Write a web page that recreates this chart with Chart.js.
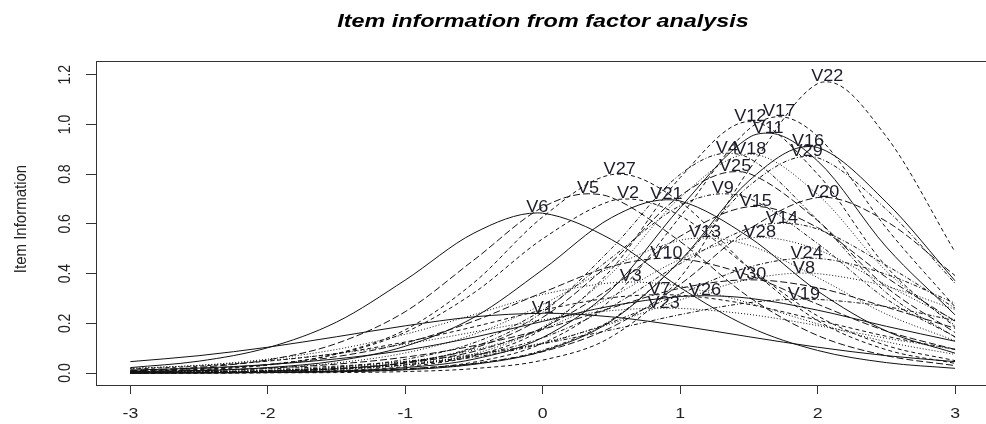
<!DOCTYPE html>
<html>
<head>
<meta charset="utf-8">
<script src="https://cdn.jsdelivr.net/npm/chart.js@4.4.1/dist/chart.umd.min.js"></script>
<style>
  html, body { margin: 0; padding: 0; background: #fff; }
  #wrap { width: 986px; height: 424px; }
</style>
</head>
<body>
<div id="wrap"><canvas id="infoChart" width="986" height="424"></canvas></div>
<script>
// Theta grid the curves were read at
const xGrid = [-3, -2.5, -2, -1.5, -1, -0.5, 0, 0.5, 1, 1.5, 2, 2.5, 3];
const xTicks = [-3, -2, -1, 0, 1, 2, 3];
const yTicks = [0, 0.2, 0.4, 0.6, 0.8, 1.0, 1.2];

// Item names, where each curve peaks and how high (label positions)
const itemNames = ['V1','V2','V3','V4','V5','V6','V7','V8','V9','V10','V11','V12','V13','V14','V15',
                   'V16','V17','V18','V19','V20','V21','V22','V23','V24','V25','V26','V27','V28','V29','V30'];
const itemLoc = [0.00, 0.62, 0.64, 1.34, 0.33, -0.04, 0.85, 1.90, 1.31, 0.90, 1.64, 1.51, 1.18, 1.74, 1.55,
                 1.93, 1.72, 1.51, 1.90, 2.04, 0.90, 2.07, 0.88, 1.92, 1.40, 1.18, 0.56, 1.58, 1.92, 1.51];
const itemPeak = [0.241, 0.700, 0.366, 0.884, 0.721, 0.644, 0.315, 0.402, 0.721, 0.462, 0.965, 1.011, 0.543, 0.603, 0.670,
                  0.911, 1.031, 0.880, 0.297, 0.707, 0.697, 1.171, 0.261, 0.462, 0.810, 0.311, 0.800, 0.545, 0.871, 0.375];

// Information values on xGrid, one list per item
const V1  = [0.046, 0.070, 0.104, 0.146, 0.190, 0.226, 0.240, 0.226, 0.190, 0.146, 0.104, 0.070, 0.046];
const V2  = [0.007, 0.015, 0.034, 0.076, 0.164, 0.323, 0.540, 0.693, 0.633, 0.424, 0.230, 0.111, 0.050];
const V3  = [0.018, 0.031, 0.056, 0.095, 0.156, 0.235, 0.316, 0.363, 0.349, 0.282, 0.198, 0.126, 0.075];
const V4  = [0.001, 0.003, 0.007, 0.017, 0.042, 0.105, 0.245, 0.501, 0.799, 0.865, 0.615, 0.323, 0.144];
const V5  = [0.010, 0.023, 0.053, 0.119, 0.247, 0.455, 0.667, 0.706, 0.529, 0.306, 0.151, 0.070, 0.030];
const V6  = [0.022, 0.048, 0.102, 0.205, 0.374, 0.563, 0.643, 0.537, 0.344, 0.186, 0.091, 0.042, 0.019];
const V7  = [0.016, 0.028, 0.048, 0.079, 0.125, 0.186, 0.253, 0.303, 0.313, 0.276, 0.213, 0.148, 0.095];
const V8  = [0.003, 0.006, 0.011, 0.021, 0.039, 0.070, 0.122, 0.199, 0.294, 0.377, 0.400, 0.349, 0.256];
const V9  = [0.002, 0.004, 0.010, 0.024, 0.055, 0.122, 0.254, 0.464, 0.673, 0.703, 0.521, 0.298, 0.146];
const V10 = [0.009, 0.018, 0.034, 0.066, 0.121, 0.209, 0.324, 0.429, 0.460, 0.393, 0.277, 0.169, 0.095];
const V11 = [0.000, 0.001, 0.003, 0.008, 0.022, 0.056, 0.143, 0.336, 0.665, 0.947, 0.853, 0.507, 0.234];
const V12 = [0.001, 0.001, 0.003, 0.010, 0.026, 0.069, 0.177, 0.417, 0.786, 1.011, 0.800, 0.428, 0.184];
const V13 = [0.005, 0.010, 0.020, 0.041, 0.081, 0.156, 0.276, 0.426, 0.534, 0.514, 0.384, 0.237, 0.130];
const V14 = [0.002, 0.003, 0.007, 0.016, 0.033, 0.071, 0.142, 0.268, 0.440, 0.582, 0.579, 0.433, 0.261];
const V15 = [0.002, 0.003, 0.008, 0.018, 0.040, 0.087, 0.182, 0.344, 0.550, 0.669, 0.585, 0.385, 0.208];
const V16 = [0.000, 0.001, 0.002, 0.005, 0.013, 0.035, 0.088, 0.210, 0.452, 0.773, 0.907, 0.687, 0.371];
const V17 = [0.000, 0.001, 0.002, 0.006, 0.016, 0.044, 0.120, 0.297, 0.629, 0.981, 0.952, 0.583, 0.266];
const V18 = [0.001, 0.002, 0.005, 0.013, 0.032, 0.077, 0.185, 0.401, 0.706, 0.880, 0.718, 0.410, 0.191];
const V19 = [0.006, 0.010, 0.017, 0.028, 0.047, 0.075, 0.118, 0.174, 0.235, 0.283, 0.296, 0.267, 0.211];
const V20 = [0.001, 0.001, 0.003, 0.007, 0.017, 0.039, 0.086, 0.184, 0.357, 0.578, 0.706, 0.610, 0.392];
const V21 = [0.004, 0.009, 0.022, 0.049, 0.108, 0.224, 0.416, 0.625, 0.692, 0.547, 0.330, 0.169, 0.080];
const V22 = [0.000, 0.000, 0.001, 0.002, 0.006, 0.018, 0.052, 0.146, 0.384, 0.817, 1.164, 0.951, 0.487];
const V23 = [0.019, 0.031, 0.050, 0.078, 0.116, 0.165, 0.214, 0.251, 0.260, 0.236, 0.191, 0.140, 0.096];
const V24 = [0.002, 0.005, 0.009, 0.017, 0.033, 0.064, 0.118, 0.204, 0.319, 0.426, 0.461, 0.397, 0.281];
const V25 = [0.001, 0.003, 0.007, 0.017, 0.042, 0.100, 0.224, 0.447, 0.713, 0.803, 0.613, 0.345, 0.163];
const V26 = [0.012, 0.020, 0.034, 0.057, 0.092, 0.144, 0.208, 0.270, 0.308, 0.301, 0.253, 0.188, 0.128];
const V27 = [0.006, 0.013, 0.032, 0.078, 0.174, 0.364, 0.628, 0.798, 0.688, 0.424, 0.211, 0.094, 0.039];
const V28 = [0.003, 0.005, 0.011, 0.023, 0.046, 0.093, 0.176, 0.306, 0.457, 0.543, 0.496, 0.354, 0.213];
const V29 = [0.000, 0.001, 0.002, 0.006, 0.015, 0.037, 0.092, 0.214, 0.449, 0.752, 0.866, 0.658, 0.361];
const V30 = [0.006, 0.011, 0.020, 0.036, 0.064, 0.110, 0.176, 0.262, 0.341, 0.375, 0.343, 0.265, 0.180];

const curves = [V1, V2, V3, V4, V5, V6, V7, V8, V9, V10, V11, V12, V13, V14, V15,
                V16, V17, V18, V19, V20, V21, V22, V23, V24, V25, V26, V27, V28, V29, V30];

// R line types cycle: solid, dashed, dotted, dotdash, longdash
const dashTypes = [[], [4, 3], [1, 2], [1, 2, 4, 2], [7, 3]];

const FONT = "'Liberation Sans', Arial, sans-serif";

// Build datasets: grid points plus the peak point
const datasets = curves.map((vals, i) => {
    const pts = xGrid.map((x, j) => ({ x: x, y: vals[j] }));
    pts.push({ x: itemLoc[i], y: itemPeak[i] });
    pts.sort((a, b) => a.x - b.x);
    return {
        label: itemNames[i],
        data: pts,
        borderColor: '#111',
        borderWidth: 1,
        borderDash: dashTypes[i % 5],
        pointRadius: 0,
        fill: false,
        cubicInterpolationMode: 'monotone'
    };
});

// text drawn a little wider than the font, like the stretched original
function wideText(ctx, text, x, y, sx) {
    ctx.save();
    ctx.translate(x, y);
    ctx.scale(sx, 1);
    ctx.fillText(text, 0, 0);
    ctx.restore();
}

// Title, box, axis labels and item labels (R style)
const decorPlugin = {
    id: 'decor',
    afterDatasetsDraw(chart) {
        const ctx = chart.ctx;
        const xs = chart.scales.x;
        const ys = chart.scales.y;
        ctx.save();
        // item labels at each curve's peak
        ctx.font = '16px ' + FONT;
        ctx.fillStyle = '#1c1c28';
        ctx.textAlign = 'center';
        ctx.textBaseline = 'middle';
        itemNames.forEach((name, i) => {
            wideText(ctx, name, xs.getPixelForValue(itemLoc[i]), ys.getPixelForValue(itemPeak[i]) - 5, 1.13);
        });
        ctx.restore();
    },
    afterDraw(chart) {
        const ctx = chart.ctx;
        const area = chart.chartArea;
        const xs = chart.scales.x;
        const ys = chart.scales.y;
        ctx.save();

        // plot box
        ctx.strokeStyle = '#333';
        ctx.lineWidth = 1;
        ctx.strokeRect(Math.round(area.left) + 0.5, Math.round(area.top) + 0.5, 891, Math.round(area.bottom - area.top));

        ctx.fillStyle = '#222';
        ctx.textAlign = 'center';
        ctx.textBaseline = 'middle';

        // x tick labels
        ctx.font = '15px ' + FONT;
        xTicks.forEach(v => {
            wideText(ctx, String(v), xs.getPixelForValue(v), 414, 1.18);
        });

        // y tick labels, rotated like R's las = 0
        ctx.font = '14px ' + FONT;
        yTicks.forEach(v => {
            ctx.save();
            ctx.translate(66, ys.getPixelForValue(v));
            ctx.rotate(-Math.PI / 2);
            ctx.scale(1, 1.15);
            ctx.fillText(v.toFixed(1), 0, 0);
            ctx.restore();
        });

        // y axis title
        ctx.save();
        ctx.font = '15px ' + FONT;
        ctx.translate(21, (area.top + area.bottom) / 2 - 4);
        ctx.rotate(-Math.PI / 2);
        ctx.scale(1, 1.1);
        ctx.fillText('Item Information', 0, 0);
        ctx.restore();

        // main title
        ctx.font = 'italic bold 19px ' + FONT;
        ctx.fillStyle = '#000';
        wideText(ctx, 'Item information from factor analysis', 543, 22, 1.23);
        ctx.restore();
    }
};

new Chart(document.getElementById('infoChart').getContext('2d'), {
    type: 'line',
    data: { datasets: datasets },
    options: {
        responsive: false,
        animation: false,
        devicePixelRatio: 1,
        layout: { padding: { top: 61, right: 0, left: 0, bottom: 0 } },
        plugins: {
            legend: { display: false },
            tooltip: { enabled: false }
        },
        scales: {
            x: {
                type: 'linear',
                min: -3.25,
                max: 3.225,
                afterBuildTicks: s => { s.ticks = xTicks.map(v => ({ value: v })); },
                afterFit: s => { s.height = 39; },
                grid: { drawOnChartArea: false, drawTicks: true, tickLength: 9, color: '#333' },
                border: { display: false },
                ticks: { display: false }
            },
            y: {
                type: 'linear',
                min: -0.048,
                max: 1.255,
                afterBuildTicks: s => { s.ticks = yTicks.map(v => ({ value: v })); },
                afterFit: s => { s.width = 96; },
                grid: { drawOnChartArea: false, drawTicks: true, tickLength: 10, color: '#333' },
                border: { display: false },
                ticks: { display: false }
            }
        }
    },
    plugins: [decorPlugin]
});
</script>
</body>
</html>
